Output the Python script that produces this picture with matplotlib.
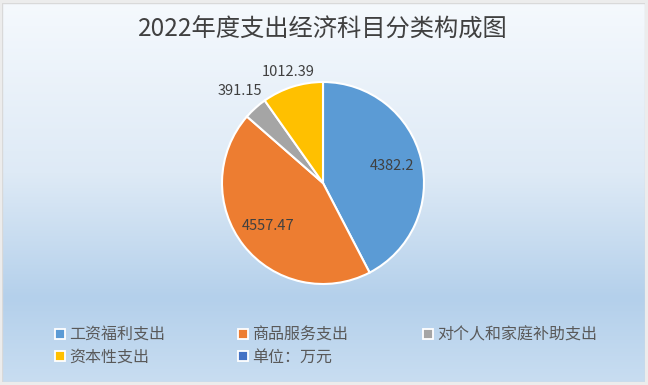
import numpy as np
import matplotlib
matplotlib.use("Agg")
import matplotlib.pyplot as plt
from matplotlib.patches import Patch, Rectangle
from matplotlib.colors import LinearSegmentedColormap

plt.rcParams['font.family'] = ['Noto Sans CJK SC', 'DejaVu Sans']

title = "2022年度支出经济科目分类构成图"
categories = ["工资福利支出", "商品服务支出", "对个人和家庭补助支出", "资本性支出"]
values = [4382.2, 4557.47, 391.15, 1012.39]
value_labels = ["4382.2", "4557.47", "391.15", "1012.39"]
colors = ["#5b9bd5", "#ed7d31", "#a5a5a5", "#ffc000"]
unit_label = "单位：万元"
unit_color = "#4472c4"

W, H = 648, 385
fig = plt.figure(figsize=(W / 100, H / 100), dpi=100)
fig.patch.set_facecolor("#ececec")

# gradient background panel
x0, x1, y0, y1 = 2, 645, 3, 382
bg = fig.add_axes([x0 / W, 1 - y1 / H, (x1 - x0) / W, (y1 - y0) / H])
cmap = LinearSegmentedColormap.from_list(
    "bg", [(0.0, (245/255, 249/255, 253/255)),
           (0.45, (222/255, 234/255, 246/255)),
           (0.78, (180/255, 208/255, 235/255)),
           (1.0, (200/255, 221/255, 241/255))])
grad = np.linspace(0, 1, 256).reshape(-1, 1)
bg.imshow(grad, aspect="auto", cmap=cmap, extent=[0, 1, 1, 0])
bg.set_axis_off()
bg.add_patch(Rectangle((0, 0), 1, 1, transform=bg.transAxes, fill=False,
                       edgecolor="#d9d9d9", linewidth=1.0))

# title
fig.text(323 / W, 1 - 30 / H, title, ha="center", va="center",
         fontsize=17.5, color="#404040")

# pie
cx, cy, r = 323, 183, 101
ax = fig.add_axes([(cx - r) / W, 1 - (cy + r) / H, 2 * r / W, 2 * r / H])
wedges, _ = ax.pie(values, colors=colors, startangle=90, counterclock=False,
                   wedgeprops=dict(edgecolor="white", linewidth=1.5))
ax.set_aspect("equal")
ax.set_xlim(-1, 1)
ax.set_ylim(-1, 1)

dists = [0.70, 0.69, 1.23, 1.15]
for w, lab, d in zip(wedges, value_labels, dists):
    ang = np.deg2rad((w.theta1 + w.theta2) / 2)
    ax.text(d * np.cos(ang), d * np.sin(ang), lab, ha="center", va="center",
            fontsize=10.5, color="#404040", clip_on=False)

# legend: three columns placed like the original
handles = [Patch(facecolor=c, edgecolor="white", linewidth=1.3) for c in colors]
handles.append(Patch(facecolor=unit_color, edgecolor="white", linewidth=1.3))
labels = categories + [unit_label]
columns = [[0, 3], [1, 4], [2]]
col_x = [55, 238, 423]
for idx, xpx in zip(columns, col_x):
    leg = fig.legend([handles[i] for i in idx], [labels[i] for i in idx],
                     loc="upper left", bbox_to_anchor=(xpx / W, 1 - 326.5 / H),
                     frameon=False, fontsize=11.5, handlelength=0.6,
                     handleheight=0.65, handletextpad=0.3,
                     labelspacing=0.32, borderaxespad=0, borderpad=0)
    for t in leg.get_texts():
        t.set_color("#595959")

fig.savefig("out.png", dpi=100, facecolor=fig.get_facecolor())
